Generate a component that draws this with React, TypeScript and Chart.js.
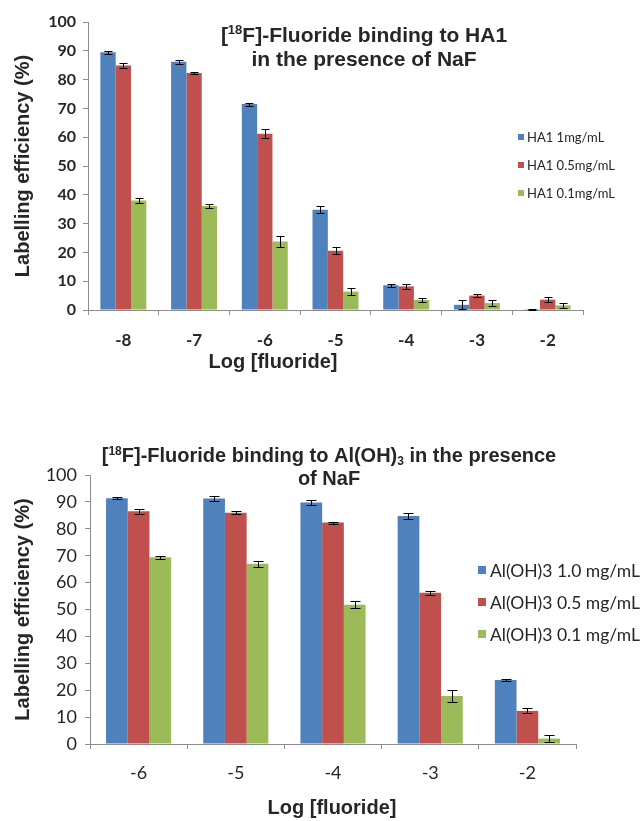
import React, { useEffect, useRef } from 'react';
import { Chart, registerables } from 'chart.js';

Chart.register(...registerables);

// ---------- DATA ----------
const haCategories = ['-8', '-7', '-6', '-5', '-4', '-3', '-2'];
const ha1mg = [89.5, 86.2, 71.5, 34.8, 8.6, 1.8, 0.3];
const ha1mgErr = [0.5, 0.7, 0.5, 1.2, 0.5, 1.5, 0.2];
const ha05mg = [84.9, 82.3, 61.2, 20.6, 8.2, 5.0, 3.6];
const ha05mgErr = [0.8, 0.4, 1.5, 1.2, 0.8, 0.4, 0.8];
const ha01mg = [38.0, 36.1, 23.8, 6.4, 3.5, 2.4, 1.6];
const ha01mgErr = [1.0, 0.8, 1.8, 1.2, 0.8, 0.9, 0.8];
const haLabels = ['HA1 1mg/mL', 'HA1 0.5mg/mL', 'HA1 0.1mg/mL'];

const alCategories = ['-6', '-5', '-4', '-3', '-2'];
const al10mg = [91.4, 91.3, 89.8, 84.8, 23.8];
const al10mgErr = [0.5, 0.8, 0.8, 1.2, 0.4];
const al05mg = [86.5, 86.0, 82.3, 56.2, 12.3];
const al05mgErr = [0.9, 0.5, 0.4, 0.7, 0.9];
const al01mg = [69.4, 67.0, 51.8, 17.8, 2.0];
const al01mgErr = [0.5, 1.2, 1.3, 2.1, 1.3];
const alLabels = ['Al(OH)3 1.0 mg/mL', 'Al(OH)3 0.5 mg/mL', 'Al(OH)3 0.1 mg/mL'];

const yTickMin = 0;
const yTickMax = 100;
const yTickStep = 10;

const BLUE = '#4F81BD';
const RED = '#C0504D';
const GREEN = '#9BBB59';
const TEXT = '#262626';
const AXIS = '#8c8c8c';
const ARIAL = '"Liberation Sans", Arial, sans-serif';
const CAL = 'Lato, "Open Sans", sans-serif';

type Seg = { t: string; s?: 'sup' | 'sub' };
type Series = { label: string; data: number[]; err: number[]; color: string };

type Spec = {
  width: number;
  height: number;
  categories: string[];
  series: Series[];
  area: { left: number; right: number; top: number; bottom: number };
  catPct: number;
  yTickFont: { size: number; weight: string };
  xTickFont: { size: number; weight: string };
  yTickPad: number;
  xTickPad: number;
  titleLines: Seg[][];
  titleX: number;
  titleBase: number[];
  titleSize: number;
  yTitle: string;
  yTitleX: number;
  xTitle: string;
  xTitleX: number;
  xTitleY: number;
  axisTitleSize: number;
  legend: { x: number; y0: number; dy: number; box: number; gap: number; size: number };
  capHalf: number;
};

function drawRich(ctx: CanvasRenderingContext2D, segs: Seg[], cx: number, base: number, size: number) {
  const small = Math.round(size * 0.6);
  const widths = segs.map((sg) => {
    ctx.font = `bold ${sg.s ? small : size}px ${ARIAL}`;
    return ctx.measureText(sg.t).width;
  });
  const total = widths.reduce((a, b) => a + b, 0);
  let x = cx - total / 2;
  ctx.textAlign = 'left';
  ctx.textBaseline = 'alphabetic';
  segs.forEach((sg, i) => {
    ctx.font = `bold ${sg.s ? small : size}px ${ARIAL}`;
    const dy = sg.s === 'sup' ? -size * 0.36 : sg.s === 'sub' ? size * 0.16 : 0;
    ctx.fillText(sg.t, x, base + dy);
    x += widths[i];
  });
}

function makeConfig(spec: Spec): any {
  const overlay = {
    id: 'overlay',
    afterDatasetsDraw(chart: any) {
      const ctx: CanvasRenderingContext2D = chart.ctx;
      const ys = chart.scales.y;
      ctx.save();
      ctx.strokeStyle = '#000';
      ctx.lineWidth = 1;
      spec.series.forEach((s, i) => {
        const meta = chart.getDatasetMeta(i);
        meta.data.forEach((bar: any, j: number) => {
          const v = s.data[j];
          const e = s.err[j];
          const x = Math.round(bar.x) + 0.5;
          const yt = Math.round(ys.getPixelForValue(v + e)) + 0.5;
          const yb = Math.round(ys.getPixelForValue(Math.max(0, v - e))) + 0.5;
          ctx.beginPath();
          ctx.moveTo(x, yt);
          ctx.lineTo(x, yb);
          ctx.moveTo(x - spec.capHalf, yt);
          ctx.lineTo(x + spec.capHalf, yt);
          ctx.moveTo(x - spec.capHalf, yb);
          ctx.lineTo(x + spec.capHalf, yb);
          ctx.stroke();
        });
      });
      ctx.restore();
    },
    afterDraw(chart: any) {
      const ctx: CanvasRenderingContext2D = chart.ctx;
      const ca = chart.chartArea;
      ctx.save();
      ctx.fillStyle = TEXT;
      spec.titleLines.forEach((line, i) => drawRich(ctx, line, spec.titleX, spec.titleBase[i], spec.titleSize));
      ctx.save();
      ctx.translate(spec.yTitleX, (ca.top + ca.bottom) / 2);
      ctx.rotate(-Math.PI / 2);
      ctx.font = `bold ${spec.axisTitleSize}px ${ARIAL}`;
      ctx.textAlign = 'center';
      ctx.textBaseline = 'middle';
      ctx.fillText(spec.yTitle, 0, 0);
      ctx.restore();
      ctx.font = `bold ${spec.axisTitleSize}px ${ARIAL}`;
      ctx.textAlign = 'center';
      ctx.textBaseline = 'middle';
      ctx.fillText(spec.xTitle, spec.xTitleX, spec.xTitleY);
      const lg = spec.legend;
      ctx.font = `${lg.size}px ${CAL}`;
      ctx.textAlign = 'left';
      ctx.textBaseline = 'middle';
      spec.series.forEach((s, i) => {
        const cy = lg.y0 + i * lg.dy;
        ctx.fillStyle = s.color;
        ctx.fillRect(lg.x, Math.round(cy - lg.box / 2), lg.box, lg.box);
        ctx.fillStyle = TEXT;
        ctx.fillText(s.label, lg.x + lg.box + lg.gap, cy + 1);
      });
      ctx.restore();
    },
  };

  return {
    type: 'bar',
    data: {
      labels: spec.categories,
      datasets: spec.series.map((s) => ({
        label: s.label,
        data: s.data,
        backgroundColor: s.color,
        borderWidth: 0,
        barPercentage: 1,
        categoryPercentage: spec.catPct,
      })),
    },
    options: {
      responsive: false,
      animation: false,
      events: [],
      layout: {
        padding: { left: 0, top: spec.area.top, right: spec.width - spec.area.right, bottom: 0 },
      },
      plugins: {
        legend: { display: false },
        title: { display: false },
        tooltip: { enabled: false },
      },
      scales: {
        x: {
          type: 'category',
          grid: { display: true, drawOnChartArea: false, drawTicks: true, tickLength: 5, color: AXIS, offset: true },
          border: { display: true, color: AXIS, width: 1 },
          ticks: {
            color: TEXT,
            padding: spec.xTickPad,
            maxRotation: 0,
            autoSkip: false,
            font: { family: CAL, size: spec.xTickFont.size, weight: spec.xTickFont.weight },
          },
          afterFit: (s: any) => {
            s.height = spec.height - spec.area.bottom;
          },
        },
        y: {
          min: yTickMin,
          max: yTickMax,
          grid: { display: true, drawOnChartArea: false, drawTicks: true, tickLength: 5, color: AXIS },
          border: { display: true, color: AXIS, width: 1 },
          ticks: {
            stepSize: yTickStep,
            color: TEXT,
            padding: spec.yTickPad,
            font: { family: CAL, size: spec.yTickFont.size, weight: spec.yTickFont.weight },
          },
          afterFit: (s: any) => {
            s.width = spec.area.left;
          },
        },
      },
    },
    plugins: [overlay],
  };
}

function Panel({ spec, top }: { spec: Spec; top: number }) {
  const ref = useRef<HTMLCanvasElement | null>(null);
  useEffect(() => {
    if (!ref.current) return;
    const chart = new Chart(ref.current, makeConfig(spec));
    return () => chart.destroy();
  }, [spec]);
  return (
    <canvas
      ref={ref}
      width={spec.width}
      height={spec.height}
      style={{ position: 'absolute', left: 0, top, width: spec.width, height: spec.height }}
    />
  );
}

const topSpec: Spec = {
  width: 644,
  height: 390,
  categories: haCategories,
  series: [
    { label: haLabels[0], data: ha1mg, err: ha1mgErr, color: BLUE },
    { label: haLabels[1], data: ha05mg, err: ha05mgErr, color: RED },
    { label: haLabels[2], data: ha01mg, err: ha01mgErr, color: GREEN },
  ],
  area: { left: 88, right: 583, top: 22, bottom: 310 },
  catPct: 0.65,
  yTickFont: { size: 16, weight: 'bold' },
  xTickFont: { size: 17, weight: 'bold' },
  yTickPad: 7,
  xTickPad: 15,
  titleLines: [
    [{ t: '[' }, { t: '18', s: 'sup' }, { t: 'F]-Fluoride binding to HA1' }],
    [{ t: 'in the presence of NaF' }],
  ],
  titleX: 364,
  titleBase: [42, 66],
  titleSize: 21,
  yTitle: 'Labelling efficiency (%)',
  yTitleX: 23,
  xTitle: 'Log [fluoride]',
  xTitleX: 273,
  xTitleY: 362,
  axisTitleSize: 20,
  legend: { x: 518, y0: 137, dy: 28, box: 6, gap: 3, size: 13 },
  capHalf: 4,
};

const botSpec: Spec = {
  width: 644,
  height: 421,
  categories: alCategories,
  series: [
    { label: alLabels[0], data: al10mg, err: al10mgErr, color: BLUE },
    { label: alLabels[1], data: al05mg, err: al05mgErr, color: RED },
    { label: alLabels[2], data: al01mg, err: al01mgErr, color: GREEN },
  ],
  area: { left: 90, right: 576, top: 75, bottom: 344 },
  catPct: 0.67,
  yTickFont: { size: 18, weight: 'normal' },
  xTickFont: { size: 18, weight: 'normal' },
  yTickPad: 8,
  xTickPad: 13,
  titleLines: [
    [{ t: '[' }, { t: '18', s: 'sup' }, { t: 'F]-Fluoride binding to Al(OH)' }, { t: '3', s: 'sub' }, { t: ' in the presence' }],
    [{ t: 'of NaF' }],
  ],
  titleX: 329,
  titleBase: [62, 85],
  titleSize: 20,
  yTitle: 'Labelling efficiency (%)',
  yTitleX: 23,
  xTitle: 'Log [fluoride]',
  xTitleX: 332,
  xTitleY: 408,
  axisTitleSize: 20,
  legend: { x: 478, y0: 170, dy: 32, box: 8, gap: 4, size: 17.5 },
  capHalf: 5,
};

export default function App() {
  return (
    <div style={{ position: 'absolute', left: 0, top: 0, width: 644, height: 821, background: '#fff', overflow: 'hidden' }}>
      <Panel spec={topSpec} top={0} />
      <Panel spec={botSpec} top={400} />
    </div>
  );
}
